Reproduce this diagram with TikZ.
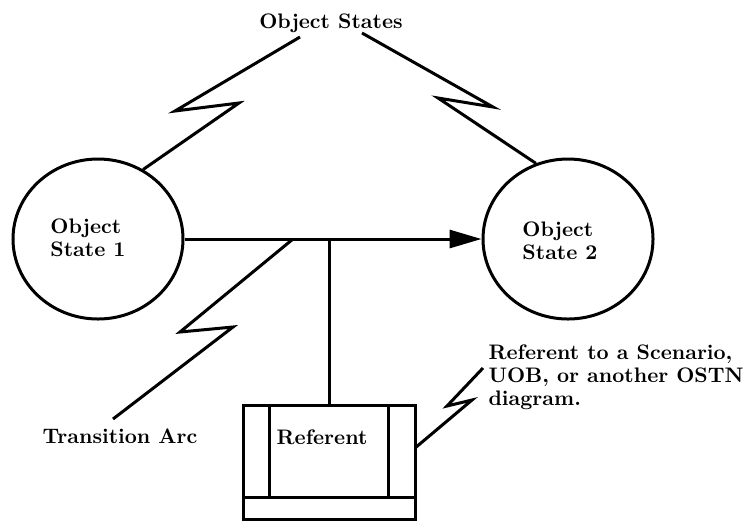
\documentclass[tikz,border=0pt]{standalone}
\usepackage{tikz}
\usetikzlibrary{arrows.meta}
\usetikzlibrary{shapes.geometric}

\begin{document}
\begin{tikzpicture}[x=0.5pt, y=-0.5pt, line width=1.5pt, line join=miter,
  >={Triangle[length=16pt,width=9pt]},
  state/.style={draw, ellipse, minimum width=85pt, minimum height=80pt, inner sep=0pt},
  lbl/.style={font=\fontsize{10.5}{11.5}\selectfont\bfseries, align=left, inner sep=0pt},
  refbox/.style={draw, rectangle, minimum width=86pt, minimum height=57pt, inner sep=0pt},]
\useasboundingbox (0,0) rectangle (747,521);
% states
\node[state] (s1) at (98,239) {};
\node[state] (s2) at (568,239) {};
\node[lbl] (n1) at (88,238) {Object\\State 1};
\node[lbl] (n2) at (560,241) {Object\\State 2};
% labels
\node[lbl] (t) at (331,23) {Object States};
\node[lbl] (ta) at (120,436) {Transition Arc};
\node[lbl, anchor=west] (rt) at (487,377) {Referent to a Scenario,\\UOB, or another OSTN\\diagram.};
% referent box
\node[refbox] (box) at (329,462) {};
\node[lbl] (rf) at (322,437) {Referent};
\draw (269,405) -- (269,497);
\draw (388,405) -- (388,497);
\draw (243,497) -- (415,497);
% transition
\draw [->] (s1)--(s2);
\coordinate (j) at (329,239);
\draw (j)--(box.north);
% zigzag pointers
\coordinate (t1) at (300,37);
\coordinate (t2) at (362,33);
\draw (t1)--(175,111)--(239,103)--(s1.57);
\draw (t2)--(493,107)--(438,98)--(s2.113);
\coordinate (a1) at (293,239);
\coordinate (a2) at (113,419);
\draw (a1)--(180,332)--(233,327)--(a2);
\coordinate (r1) at (415,448);
\coordinate (r2) at (483,368);
\draw (r1)--(472,400)--(447,406)--(r2);
\end{tikzpicture}
\end{document}
